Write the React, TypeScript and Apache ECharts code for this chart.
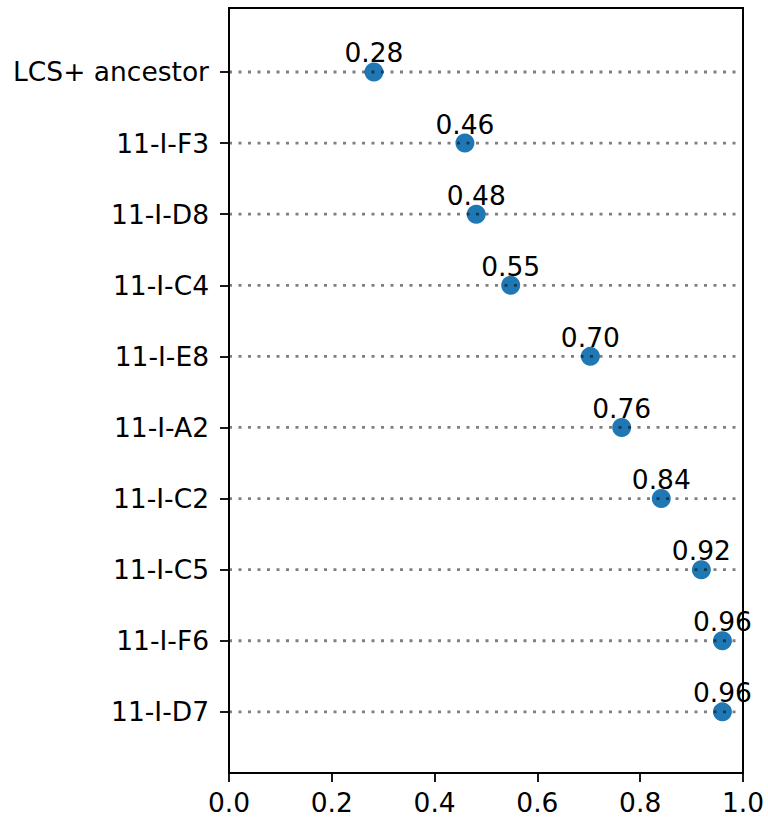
import React, { useEffect, useRef } from "react";
import * as echarts from "echarts";

const categories: string[] = [
  "LCS+ ancestor",
  "11-I-F3",
  "11-I-D8",
  "11-I-C4",
  "11-I-E8",
  "11-I-A2",
  "11-I-C2",
  "11-I-C5",
  "11-I-F6",
  "11-I-D7",
];
const values: number[] = [0.282, 0.459, 0.481, 0.548, 0.703, 0.764, 0.841, 0.919, 0.96, 0.96];

export default function App() {
  const ref = useRef<HTMLDivElement>(null);
  useEffect(() => {
    document.body.style.margin = "0";
    if (!ref.current) return;
    const chart = echarts.init(ref.current, null, { renderer: "svg" });
    const font = "DejaVu Sans";
    const fs = 26.5;
    const idx = categories.map((_, i) => i);
    chart.setOption({
      animation: false,
      backgroundColor: "#fff",
      textStyle: { fontFamily: font },
      grid: {
        left: 229,
        top: 8,
        width: 514,
        height: 765,
        show: true,
        borderColor: "#000",
        borderWidth: 2,
        backgroundColor: "transparent",
      },
      xAxis: {
        type: "value",
        min: 0,
        max: 1,
        interval: 0.2,
        position: "bottom",
        axisLine: { show: false, onZero: false },
        splitLine: { show: false },
        axisTick: { show: true, length: 9, lineStyle: { color: "#000", width: 1.8 } },
        axisLabel: {
          margin: 16,
          color: "#000",
          fontSize: fs,
          fontFamily: font,
          formatter: (v: number) => v.toFixed(1),
        },
      },
      yAxis: {
        type: "value",
        inverse: true,
        min: -0.9,
        max: 9.86,
        position: "left",
        axisLine: { show: false, onZero: false },
        splitLine: { show: false },
        axisTick: { show: true, length: 9, customValues: idx, lineStyle: { color: "#000", width: 1.8 } },
        axisLabel: {
          margin: 20,
          color: "#000",
          fontSize: fs,
          fontFamily: font,
          customValues: idx,
          formatter: (v: number) => categories[Math.round(v)] ?? "",
        },
      },
      series: [
        {
          type: "scatter",
          z: 2,
          symbol: "circle",
          symbolSize: 19,
          itemStyle: { color: "#1f77b4", opacity: 1 },
          data: values.map((v, i) => [v, i]),
          label: {
            show: true,
            position: "inside",
            offset: [0, -19],
            color: "#000",
            fontSize: fs,
            fontFamily: font,
            formatter: (p: any) => (p.value[0] as number).toFixed(2),
          },
        },
        {
          type: "custom",
          z: 3,
          silent: true,
          data: idx.map((i) => [1, i]),
          encode: { x: 0, y: 1 },
          renderItem: (params: any, api: any) => {
            const y = api.value(1);
            const p0 = api.coord([0, y]);
            const p1 = api.coord([1, y]);
            return {
              type: "line",
              shape: { x1: p0[0], y1: p0[1], x2: p1[0], y2: p1[1] },
              style: { stroke: "rgba(0,0,0,0.5)", lineWidth: 2.8, lineDash: [3, 6.5], fill: null },
            };
          },
        },
      ],
    });
    return () => chart.dispose();
  }, []);
  return <div ref={ref} style={{ width: 768, height: 818 }} />;
}
